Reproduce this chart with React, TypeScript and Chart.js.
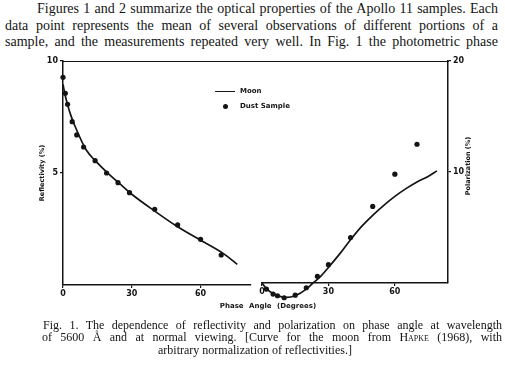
import React, { useEffect, useRef } from "react";
import { Chart, registerables } from "chart.js";

Chart.register(...registerables);

// ---- Data ----
// Reflectivity panel
const dustReflAngles = [0, 1, 2, 4, 6, 9, 14, 19, 24, 29, 40, 50, 60, 69];
const dustRefl = [9.27, 8.56, 8.07, 7.29, 6.7, 6.16, 5.55, 5.0, 4.57, 4.12, 3.38, 2.68, 2.04, 1.34];
const moonReflAngles = [0, 1, 2, 3.5, 5, 10, 15, 20, 25, 30, 40, 50, 60, 70, 76];
const moonRefl = [8.95, 8.45, 8.05, 7.55, 7.15, 6.05, 5.45, 4.95, 4.5, 4.05, 3.3, 2.6, 2.0, 1.4, 0.92];

// Polarization panel
const dustPolAngles = [2, 5, 7, 10, 15, 20, 25, 30, 40, 50, 60, 70];
const dustPol = [-0.55, -1.0, -1.15, -1.33, -1.1, -0.43, 0.6, 1.65, 4.1, 6.9, 9.8, 12.5];
const moonPolAngles = [0, 2, 5, 8, 11, 15, 20, 23, 26, 30, 35, 40, 45, 50, 55, 60, 65, 70, 75, 79];
const moonPol = [0, -0.5, -0.95, -1.2, -1.3, -1.15, -0.55, 0, 0.5, 1.4, 2.6, 3.9, 5.1, 6.1, 7.0, 7.8, 8.5, 9.1, 9.6, 10.1];

// Tick values
const angleTicks = [0, 30, 60];
const reflTicks = [5, 10];
const polTicks = [10, 20];

const paragraph = [
  "Figures 1 and 2 summarize the optical properties of the Apollo 11 samples.  Each",
  "data point represents the mean of several observations of different portions of a",
  "sample, and the measurements repeated very well.  In Fig. 1 the photometric phase",
];

const INK = "#141414";
const tickFont = { family: "'DejaVu Sans', sans-serif", size: 8, weight: "bold" as const };
const titleFont = { family: "'DejaVu Sans', sans-serif", size: 6.5, weight: "bold" as const };

const pts = (xs: number[], ys: number[]) => xs.map((x, i) => ({ x, y: ys[i] }));

function axisX(max: number) {
  return {
    type: "linear" as const,
    min: 0,
    max,
    afterBuildTicks: (s: any) => {
      s.ticks = angleTicks.map((v) => ({ value: v }));
    },
    ticks: { color: INK, font: tickFont, padding: 1, maxRotation: 0 },
    grid: { drawOnChartArea: false, drawTicks: true, tickLength: 3, color: INK, lineWidth: 1.2 },
    border: { display: true, color: INK, width: 1.5 },
    afterFit: (s: any) => {
      s.height = 20;
    },
  };
}

// Lets points that lie below the zero line (negative polarization) be drawn too.
const belowAxisPlugin = {
  id: "belowAxis",
  beforeDatasetsDraw(chart: any) {
    chart.$savedArea = chart.chartArea;
    chart.chartArea = { ...chart.chartArea, bottom: chart.chartArea.bottom + 30 };
  },
  afterDatasetsDraw(chart: any) {
    if (chart.$savedArea) chart.chartArea = chart.$savedArea;
  },
};

const rightTitlePlugin = {
  id: "rightTitle",
  afterDraw(chart: any) {
    const y = chart.scales.y;
    const ctx = chart.ctx;
    ctx.save();
    ctx.translate(y.left + 20, (y.top + y.bottom) / 2 - 6);
    ctx.rotate(-Math.PI / 2);
    ctx.fillStyle = INK;
    ctx.font = "bold 6.5px 'DejaVu Sans', sans-serif";
    ctx.textAlign = "center";
    ctx.textBaseline = "middle";
    ctx.fillText("Polarization (%)", 0, 0);
    ctx.restore();
  },
};

export default function App() {
  const leftRef = useRef<HTMLCanvasElement | null>(null);
  const rightRef = useRef<HTMLCanvasElement | null>(null);

  useEffect(() => {
    const left = new Chart(leftRef.current as HTMLCanvasElement, {
      type: "scatter",
      data: {
        datasets: [
          {
            type: "line",
            label: "Moon",
            data: pts(moonReflAngles, moonRefl),
            borderColor: INK,
            borderWidth: 1.7,
            pointRadius: 0,
            cubicInterpolationMode: "monotone",
            fill: false,
            clip: false,
          } as any,
          {
            type: "scatter",
            label: "Dust Sample",
            data: pts(dustReflAngles, dustRefl),
            backgroundColor: INK,
            borderColor: INK,
            borderWidth: 0,
            pointRadius: 2.6,
            clip: false,
          } as any,
        ],
      },
      options: {
        responsive: false,
        animation: false,
        events: [],
        layout: { padding: { left: 38, top: 61, right: 254, bottom: 61 } },
        plugins: { legend: { display: false }, tooltip: { enabled: false } },
        scales: {
          x: axisX(82) as any,
          y: {
            type: "linear",
            min: 0,
            max: 10,
            afterBuildTicks: (s: any) => {
              s.ticks = reflTicks.map((v) => ({ value: v }));
            },
            ticks: { color: INK, font: tickFont, padding: 2 },
            grid: { drawOnChartArea: false, drawTicks: true, tickLength: 3, color: INK, lineWidth: 1.2 },
            border: { display: true, color: INK, width: 1.5 },
            title: { display: true, text: "Reflectivity (%)", color: INK, font: titleFont, padding: 0 },
            afterFit: (s: any) => {
              s.width = 25;
            },
          } as any,
        },
      },
    });

    const right = new Chart(rightRef.current as HTMLCanvasElement, {
      type: "scatter",
      data: {
        datasets: [
          {
            type: "line",
            label: "Moon",
            data: pts(moonPolAngles, moonPol),
            borderColor: INK,
            borderWidth: 1.7,
            pointRadius: 0,
            cubicInterpolationMode: "monotone",
            fill: false,
            clip: false,
          } as any,
          {
            type: "scatter",
            label: "Dust Sample",
            data: pts(dustPolAngles, dustPol),
            backgroundColor: INK,
            borderColor: INK,
            borderWidth: 0,
            pointRadius: 2.6,
            clip: false,
          } as any,
        ],
      },
      options: {
        responsive: false,
        animation: false,
        events: [],
        layout: { padding: { left: 262, top: 61, right: 27, bottom: 63 } },
        plugins: { legend: { display: false }, tooltip: { enabled: false } },
        scales: {
          x: axisX(84) as any,
          y: {
            type: "linear",
            position: "right",
            min: 0,
            max: 20,
            afterBuildTicks: (s: any) => {
              s.ticks = polTicks.map((v) => ({ value: v }));
            },
            ticks: { color: INK, font: tickFont, padding: 2 },
            grid: { drawOnChartArea: false, drawTicks: true, tickLength: 3, color: INK, lineWidth: 1.2 },
            border: { display: true, color: INK, width: 1.5 },
            afterFit: (s: any) => {
              s.width = 30;
            },
          } as any,
        },
      },
      plugins: [belowAxisPlugin, rightTitlePlugin],
    });

    return () => {
      left.destroy();
      right.destroy();
    };
  }, []);

  const serif = "'Liberation Serif', 'Times New Roman', serif";
  const sans = "'DejaVu Sans', sans-serif";

  return (
    <div
      style={{
        position: "fixed",
        left: 0,
        top: 0,
        width: 505,
        height: 366,
        background: "#fff",
        overflow: "hidden",
        color: INK,
      }}
    >
      {paragraph.map((line, i) => (
        <div
          key={i}
          style={{
            position: "absolute",
            left: i === 0 ? 37 : 5,
            width: i === 0 ? 461 : 493,
            top: 1 + i * 16.5,
            fontFamily: serif,
            fontSize: 14,
            lineHeight: "16.5px",
            whiteSpace: "nowrap",
            textAlign: "justify",
            textAlignLast: "justify",
          }}
        >
          {line}
        </div>
      ))}

      {/* top frame line joining both panels */}
      <div style={{ position: "absolute", left: 63, top: 60.5, width: 386, height: 1.3, background: INK }} />

      <canvas ref={leftRef} width={505} height={366} style={{ position: "absolute", left: 0, top: 0, width: 505, height: 366 }} />
      <canvas ref={rightRef} width={505} height={366} style={{ position: "absolute", left: 0, top: 0, width: 505, height: 366 }} />

      {/* legend */}
      <div style={{ position: "absolute", left: 215, top: 90.5, width: 20, height: 1, background: INK }} />
      <div style={{ position: "absolute", left: 222.5, top: 103.5, width: 5, height: 5, borderRadius: "50%", background: INK }} />
      <div style={{ position: "absolute", left: 240, top: 86, fontFamily: sans, fontWeight: "bold", fontSize: 7, lineHeight: "10px" }}>
        Moon
      </div>
      <div style={{ position: "absolute", left: 240, top: 101, fontFamily: sans, fontWeight: "bold", fontSize: 7, lineHeight: "10px" }}>
        Dust Sample
      </div>

      {/* shared x-axis title */}
      <div
        style={{
          position: "absolute",
          left: 168,
          width: 200,
          top: 301,
          textAlign: "center",
          fontFamily: sans,
          fontWeight: "bold",
          fontSize: 7,
          lineHeight: "10px",
          wordSpacing: 3,
        }}
      >
        Phase Angle (Degrees)
      </div>

      {/* caption */}
      <div
        style={{
          position: "absolute",
          left: 43,
          width: 459,
          top: 318.5,
          fontFamily: serif,
          fontSize: 12,
          lineHeight: "12.5px",
          whiteSpace: "nowrap",
          textAlign: "justify",
          textAlignLast: "justify",
        }}
      >
        Fig. 1. The dependence of reflectivity and polarization on phase angle at wavelength
      </div>
      <div
        style={{
          position: "absolute",
          left: 42,
          width: 460,
          top: 331,
          fontFamily: serif,
          fontSize: 12,
          lineHeight: "12.5px",
          whiteSpace: "nowrap",
          textAlign: "justify",
          textAlignLast: "justify",
        }}
      >
        of 5600 Å and at normal viewing.  [Curve for the moon from{" "}
        <span style={{ fontVariant: "small-caps" }}>Hapke</span> (1968), with
      </div>
      <div
        style={{
          position: "absolute",
          left: 55,
          width: 400,
          top: 343.5,
          fontFamily: serif,
          fontSize: 12,
          lineHeight: "12.5px",
          whiteSpace: "nowrap",
          textAlign: "center",
        }}
      >
        arbitrary normalization of reflectivities.]
      </div>
    </div>
  );
}
